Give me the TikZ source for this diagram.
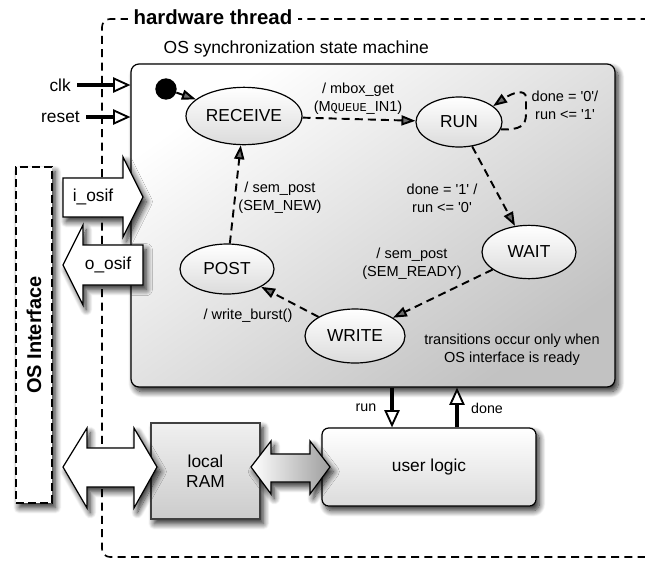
\documentclass[tikz,border=0pt]{standalone}
\usepackage{fontspec}
\setmainfont{Liberation Sans}
\newfontfamily\codefont{Liberation Mono}
\usetikzlibrary{arrows.meta,shapes.geometric,fit,shadows.blur}
\newcommand\tq{\textquotesingle}

\begin{document}
\begin{tikzpicture}[x=0.75pt,y=-0.75pt,
  every node/.style={font=\fontsize{13}{15.6}\selectfont},
  lbl/.style={font=\fontsize{10.9}{13.5}\selectfont, align=center, inner sep=0pt},
  state/.style={ellipse, draw, line width=0.9pt, top color=white, bottom color=black!14, inner sep=0pt},
  trans/.style={line width=1.45pt, dash pattern=on 6pt off 3.8pt, -{Triangle[length=10.5pt,width=7.5pt]}},
  sig/.style={line width=3pt, -{Triangle[fill=white,length=13pt,width=11.5pt,line width=1.4pt]}},
  shadowed/.style={blur shadow={shadow xshift=2.5pt, shadow yshift=-3.5pt, shadow blur radius=4.5pt, shadow blur steps=12, shadow opacity=85}},
  box/.style={inner sep=0pt, draw, line width=0.9pt},
  bigarrow/.style={draw, line width=0.9pt, fill=white, shadowed}
]
\useasboundingbox (0,0) rectangle (645,561);

% hardware thread frame
\node[fit={(102,19) (670,557)}, inner sep=0pt, draw, line width=1.2pt,
      dash pattern=on 6pt off 4pt, rounded corners=6pt] (hw) {};
\node[anchor=west, fill=white, inner xsep=4pt, inner ysep=1pt,
      font=\fontsize{15.3}{18}\selectfont\bfseries] (hwtitle) at (128,17) {hardware thread};

% OS interface column
\node[fit={(16,167) (52,503)}, box, fill=white, line width=1.2pt,
      dash pattern=on 6pt off 3pt, shadowed] (osi) {};
\node[rotate=90, font=\fontsize{15}{18}\selectfont\bfseries] (ositext) at (osi.center) {OS Interface};

% state machine
\node[anchor=west, font=\fontsize{13.1}{16}\selectfont] (smtitle) at (159,49) {OS synchronization state machine};
\node[fit={(131,64) (615,387)}, box, rounded corners=6pt,
      top color=white, bottom color=black!24, shading angle=35, shadowed] (sm) {};

% OS interface signals
\path[bigarrow] (63,178) -- (123,178) -- (123,157) -- (143,197) -- (123,237) -- (123,217) -- (63,217) -- cycle;
\node (iosif) at (93,197) {i\_osif};
\path[bigarrow] (143,245) -- (83,245) -- (83,225) -- (63,265) -- (83,305) -- (83,285) -- (143,285) -- cycle;
\node (oosif) at (108,265) {o\_osif};

% clock and reset
\node[anchor=east, inner sep=0pt] (clk) at (71,85) {clk};
\node[anchor=east, inner sep=0pt] (reset) at (80,117) {reset};
\draw[sig] ([xshift=4.5pt]clk.east) -- (clk.east -| sm.west);
\draw[sig] ([xshift=4.5pt]reset.east) -- (reset.east -| sm.west);

% states
\node[circle, fill=black, minimum size=16pt, inner sep=0pt] (init) at (166,89) {};
\node[state, minimum width=87pt, minimum height=43pt] (rec) at (244,116) {RECEIVE};
\node[state, minimum width=64.5pt, minimum height=37.5pt] (run) at (459,122) {RUN};
\node[state, minimum width=70.5pt, minimum height=40pt] (wait) at (529,252) {WAIT};
\node[state, minimum width=75pt, minimum height=40.5pt] (write) at (355,336) {WRITE};
\node[state, minimum width=70.5pt, minimum height=37.5pt] (post) at (227,269) {POST};

% transitions
\draw[line width=1.45pt, -{Triangle[length=10.5pt,width=7.5pt]}] (init) -- (rec);
\draw[trans] (rec) -- (run);
\draw[trans] (run.-10) .. controls (520,130) and (526,126) .. (526,114) -- (526,98)
             .. controls (526,88) and (512,93) .. (run.25);
\draw[trans] (run) -- (wait);
\draw[trans] (wait) -- (write);
\draw[trans] (write) -- (post);
\draw[trans] (post) -- (rec);

% transition labels
\node[lbl] (l1) at (358,99) {/ mbox\_get\\(M{\codefont\fontsize{9}{10}\selectfont QUEUE}\_IN1)};
\node[lbl] (l2) at (565,105) {done = \tq0\tq/\\run <= \tq1\tq};
\node[lbl] (l3) at (442,198) {done = \tq1\tq{} /\\run <= \tq0\tq};
\node[lbl] (l4) at (412,264) {/ sem\_post\\(SEM\_READY)};
\node[lbl] (l5) at (248,316) {/ write\_burst()};
\node[lbl] (l6) at (280,198) {/ sem\_post\\(SEM\_NEW)};
\node[lbl] (note) at (512,350) {transitions occur only when\\OS interface is ready};

% user logic and memory
\node[fit={(322,428) (536,506)}, box, rounded corners=5pt,
      top color=white, bottom color=black!14, shadowed] (ul) {};
\node (ultext) at (ul.center) {user logic};
\node[fit={(151,423) (260,519)}, box, draw=black!75,
      top color=black!6, bottom color=black!20, shadowed] (ram) {};
\node[align=center, font=\fontsize{13}{15}\selectfont] (ramtext) at (ram.center) {local\\RAM};

\path[bigarrow] (63,467) -- (87,428) -- (87,448) -- (134,448) -- (134,428) -- (157,467)
  -- (134,508) -- (134,487) -- (87,487) -- (87,508) -- cycle;
\path[bigarrow, left color=white, right color=black!38] (251,467) -- (271,441) -- (271,454) -- (310,454)
  -- (310,441) -- (330,467) -- (310,494) -- (310,482) -- (271,482) -- (271,494) -- cycle;

% run / done handshake
\coordinate (runx) at (392,0);
\coordinate (donex) at (457,0);
\draw[sig] (sm.south -| runx) -- (ul.north -| runx);
\draw[sig] (ul.north -| donex) -- (sm.south -| donex);
\node[lbl, font=\fontsize{10.7}{13}\selectfont] (runlbl) at (366,408) {run};
\node[lbl, font=\fontsize{10.7}{13}\selectfont] (donelbl) at (487,408) {done};
\end{tikzpicture}
\end{document}
